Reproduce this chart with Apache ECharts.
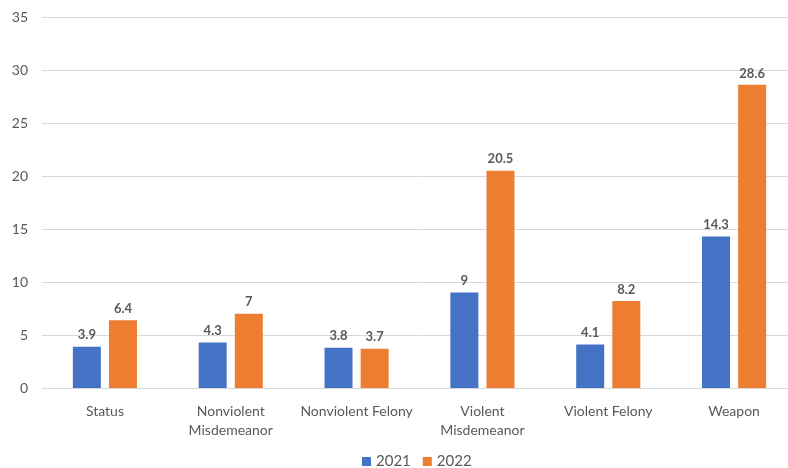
<!DOCTYPE html>
<html>
<head>
<meta charset="utf-8">
<script src="https://cdn.jsdelivr.net/npm/echarts@6/dist/echarts.min.js"></script>
<style>
  html, body { margin: 0; padding: 0; background: #fff; overflow: hidden; }
  /* the plot runs slightly past the right edge of the window */
  #chart { width: 797px; height: 468px; }
</style>
</head>
<body>
<div id="chart"></div>
<script>
// Offense categories and yearly values
const categories = ['Status', 'Nonviolent\nMisdemeanor', 'Nonviolent Felony', 'Violent\nMisdemeanor', 'Violent Felony', 'Weapon'];
const values2021 = [3.9, 4.3, 3.8, 9, 4.1, 14.3];
const values2022 = [6.4, 7, 3.7, 20.5, 8.2, 28.6];
const yTicks = { min: 0, max: 35, interval: 5 };

const font = 'Lato, "Open Sans", sans-serif';
const textColor = '#595959';

const labelStyle = {
  show: true,
  position: 'top',
  distance: 5,
  color: textColor,
  fontFamily: font,
  fontSize: 13,
  fontWeight: 'bold'
};

const chart = echarts.init(document.getElementById('chart'), null, { renderer: 'canvas' });
chart.setOption({
  animation: false,
  grid: { left: 42, top: 17, right: 0, height: 371, containLabel: false },
  legend: {
    top: 449,
    left: 357,
    padding: 5,
    itemWidth: 9,
    itemHeight: 9,
    itemGap: 12,
    icon: 'rect',
    textStyle: { color: textColor, fontFamily: font, fontSize: 15 },
    data: ['2021', '2022']
  },
  xAxis: {
    type: 'category',
    data: categories,
    axisLine: { show: true, lineStyle: { color: '#d9d9d9', width: 1 } },
    axisTick: { show: false },
    axisLabel: {
      color: textColor,
      fontFamily: font,
      fontSize: 14,
      margin: 14,
      lineHeight: 19,
      interval: 0
    }
  },
  yAxis: {
    type: 'value',
    min: yTicks.min,
    max: yTicks.max,
    interval: yTicks.interval,
    axisLine: { show: false },
    axisTick: { show: false },
    splitLine: { lineStyle: { color: '#d9d9d9', width: 1 } },
    axisLabel: { color: textColor, fontFamily: font, fontSize: 14, margin: 14 }
  },
  series: [
    {
      name: '2021',
      type: 'bar',
      data: values2021,
      barWidth: 28,
      barGap: '29%',
      itemStyle: { color: '#4472C4' },
      label: labelStyle
    },
    {
      name: '2022',
      type: 'bar',
      data: values2022,
      barWidth: 28,
      barGap: '29%',
      itemStyle: { color: '#ED7D31' },
      label: labelStyle
    }
  ]
});
</script>
</body>
</html>
